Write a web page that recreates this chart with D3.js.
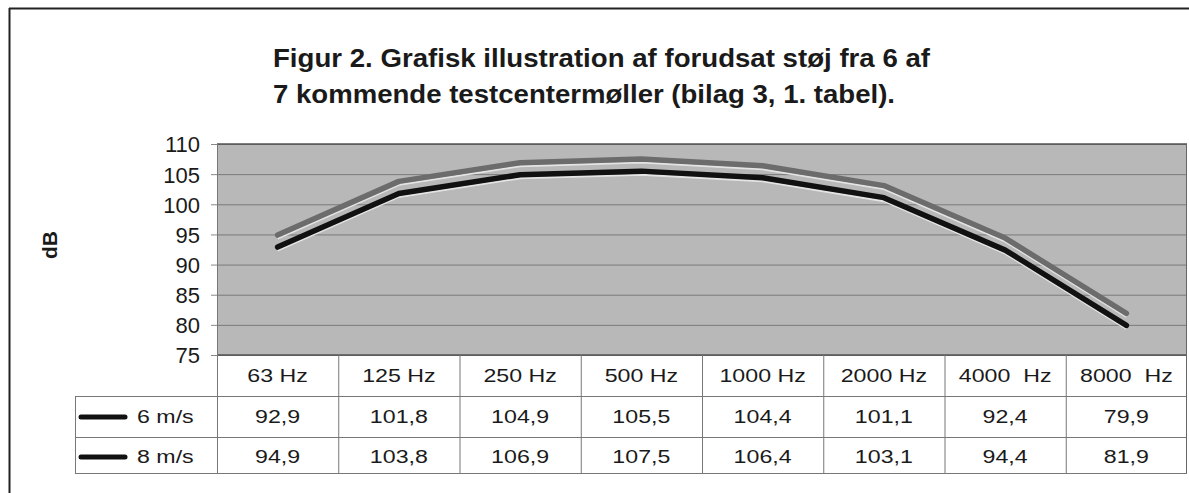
<html>
<head>
  <script src="https://d3js.org/d3.v7.min.js"></script>
  <style>
    body { margin: 0; background: #fff; }
    text { font-family: "Liberation Sans", Arial, sans-serif; fill: #1a1a1a; }
  </style>
</head>
<body>
  <svg id="chart" width="1189" height="493"></svg>
  <script>
    const freqs = ["63 Hz", "125 Hz", "250 Hz", "500 Hz", "1000 Hz", "2000 Hz", "4000  Hz", "8000  Hz"];
    const seriesNames = ["6 m/s", "8 m/s"];
    const wind6 = [92.9, 101.8, 104.9, 105.5, 104.4, 101.1, 92.4, 79.9];
    const wind8 = [94.9, 103.8, 106.9, 107.5, 106.4, 103.1, 94.4, 81.9];
    const yTicks = [75, 80, 85, 90, 95, 100, 105, 110];
    const titleLines = ["Figur 2. Grafisk illustration af forudsat støj fra 6 af",
                        "7 kommende testcentermøller (bilag 3, 1. tabel)."];

    const svg = d3.select("svg#chart");
    const plot = { left: 217, right: 1187, top: 144, bottom: 355 };
    const rows = { head: 355, r1: 396, r2: 437, end: 473 };
    const legendLeft = 75;
    const stretch = 1.22; // the scanned table text is a bit wide

    // outer frame (only top and left edges are visible in the scan)
    svg.append("line").attr("x1", 9).attr("x2", 1189).attr("y1", 8.5).attr("y2", 8.5)
      .attr("stroke", "#222").attr("stroke-width", 2);
    svg.append("line").attr("x1", 9.5).attr("x2", 9.5).attr("y1", 8).attr("y2", 493)
      .attr("stroke", "#222").attr("stroke-width", 2);

    // title
    const titleWidths = [657, 622];
    titleLines.forEach((t, i) => {
      svg.append("text")
        .attr("x", 273)
        .attr("y", 67 + 36 * i)
        .attr("textLength", titleWidths[i])
        .attr("lengthAdjust", "spacingAndGlyphs")
        .style("font-size", "26px")
        .style("font-weight", "bold")
        .text(t);
    });

    const x = d3.scaleBand().domain(freqs).range([plot.left, plot.right]).padding(0);
    const y = d3.scaleLinear().domain([75, 110]).range([plot.bottom, plot.top]);

    // plot background
    svg.append("rect")
      .attr("x", plot.left).attr("y", plot.top)
      .attr("width", plot.right - plot.left).attr("height", plot.bottom - plot.top)
      .attr("fill", "#b8b8b8");

    // gridlines
    svg.append("g")
      .attr("class", "gridlines")
      .attr("transform", `translate(${plot.left},0)`)
      .call(d3.axisLeft(y).tickValues(yTicks).tickSize(-(plot.right - plot.left)).tickFormat(""))
      .call(g => g.select(".domain").remove())
      .selectAll("line").attr("stroke", "#7a7a7a");

    // plot top edge
    svg.append("line").attr("x1", plot.left).attr("x2", plot.right)
      .attr("y1", plot.top).attr("y2", plot.top).attr("stroke", "#555").attr("stroke-width", 1.5);

    // y axis with ticks and labels
    const yAxis = svg.append("g")
      .attr("transform", `translate(${plot.left},0)`)
      .call(d3.axisLeft(y).tickValues(yTicks).tickSize(6).tickPadding(11));
    yAxis.select(".domain").attr("stroke", "#666");
    yAxis.selectAll(".tick line").attr("stroke", "#888");
    yAxis.selectAll("text")
      .attr("dy", "0.36em")
      .style("font-size", "22px")
      .style("font-family", "'Liberation Sans', Arial, sans-serif")
      .attr("fill", "#1a1a1a");

    // dB label
    svg.append("text")
      .attr("transform", "translate(57,245) rotate(-90)")
      .attr("text-anchor", "middle")
      .style("font-size", "21px")
      .style("font-weight", "bold")
      .text("dB");

    // lines
    const series = [
      { name: seriesNames[1], values: wind8, color: "#6c6c6c" },
      { name: seriesNames[0], values: wind6, color: "#111" }
    ];
    const line = d3.line()
      .x((d, i) => x(freqs[i]) + x.bandwidth() / 2)
      .y(d => y(d));
    series.forEach(s => {
      svg.append("path")
        .attr("d", line(s.values))
        .attr("transform", "translate(0,3.5)")
        .attr("fill", "none")
        .attr("stroke", "#e4e4e4")
        .attr("stroke-width", 2);
      svg.append("path")
        .attr("d", line(s.values))
        .attr("fill", "none")
        .attr("stroke", s.color)
        .attr("stroke-width", 5.5)
        .attr("stroke-linejoin", "round")
        .attr("stroke-linecap", "round");
    });

    // data table
    const grid = svg.append("g").attr("stroke", "#777").attr("stroke-width", 1);
    grid.append("line").attr("x1", plot.left).attr("x2", plot.right)
      .attr("y1", rows.head).attr("y2", rows.head).attr("stroke", "#555").attr("stroke-width", 1.5);
    [rows.r1, rows.r2, rows.end].forEach(yy => {
      grid.append("line").attr("x1", legendLeft).attr("x2", plot.right)
        .attr("y1", yy + 0.5).attr("y2", yy + 0.5);
    });
    grid.append("line").attr("x1", legendLeft + 0.5).attr("x2", legendLeft + 0.5)
      .attr("y1", rows.r1).attr("y2", rows.end);
    freqs.forEach(f => {
      grid.append("line").attr("x1", x(f) + 0.5).attr("x2", x(f) + 0.5)
        .attr("y1", f === freqs[0] ? plot.top : rows.head).attr("y2", rows.end);
    });
    grid.append("line").attr("x1", plot.right - 0.5).attr("x2", plot.right - 0.5)
      .attr("y1", plot.top).attr("y2", rows.end).attr("stroke", "#666");

    // table text helper: centred, widened like the scan
    const cellText = (cx, by, str, anchor) => {
      svg.append("text")
        .attr("transform", `translate(${cx},${by}) scale(${stretch},1)`)
        .attr("text-anchor", anchor || "middle")
        .style("font-size", "19px")
        .style("white-space", "pre")
        .text(str);
    };

    // header labels
    freqs.forEach(f => cellText(x(f) + x.bandwidth() / 2, 382, f));

    // row legends + values
    const fmt = v => v.toFixed(1).replace(".", ",");
    [[seriesNames[0], wind6, 423], [seriesNames[1], wind8, 463]].forEach(([name, vals, by]) => {
      svg.append("line")
        .attr("x1", 81).attr("x2", 125)
        .attr("y1", by - 6).attr("y2", by - 6)
        .attr("stroke", "#111").attr("stroke-width", 5).attr("stroke-linecap", "round");
      cellText(137, by, name, "start");
      vals.forEach((v, i) => cellText(x(freqs[i]) + x.bandwidth() / 2, by, fmt(v)));
    });
  </script>
</body>
</html>
